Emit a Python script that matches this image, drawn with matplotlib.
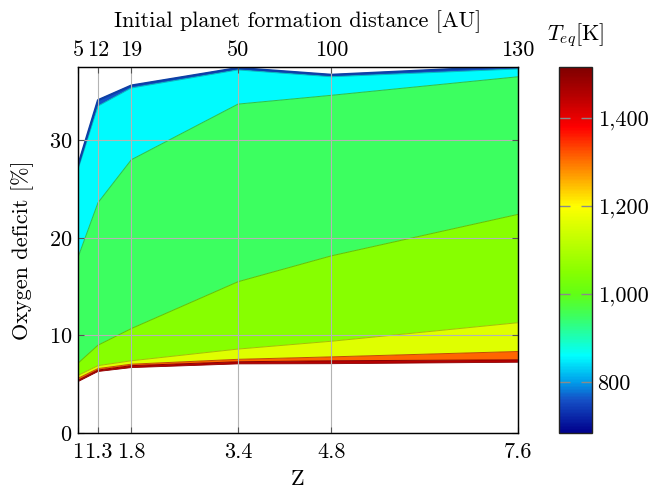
import numpy as np
import matplotlib
matplotlib.use("Agg")
import matplotlib.pyplot as plt
from matplotlib.colors import LinearSegmentedColormap, Normalize
from matplotlib.ticker import FuncFormatter
import matplotlib.cm as cm

plt.rcParams['font.family'] = 'cmr10'
plt.rcParams['mathtext.fontset'] = 'cm'
plt.rcParams['axes.formatter.use_mathtext'] = True

# ---- data ----
z_values = [1.0, 1.3, 1.8, 3.4, 4.8, 7.6]
z_labels = ["1", "1.3", "1.8", "3.4", "4.8", "7.6"]
distance_labels = ["5", "12", "19", "50", "100", "130"]

# stacked layer thicknesses (bottom -> top)
base_offset = [5.26, 6.30, 6.70, 7.08, 7.10, 7.25]
layer_1450 = [0.14, 0.15, 0.20, 0.22, 0.30, 0.25]
layer_1310 = [0.20, 0.15, 0.15, 0.25, 0.40, 0.85]
layer_1160 = [0.30, 0.30, 0.35, 1.05, 1.60, 2.95]
layer_1050 = [1.25, 2.10, 3.30, 6.90, 8.75, 11.10]
layer_950 = [10.85, 14.60, 17.30, 18.20, 16.45, 14.10]
layer_860 = [9.00, 9.90, 7.35, 3.50, 1.90, 0.80]
layer_760 = [0.40, 0.60, 0.25, 0.20, 0.20, 0.30]

layers = [layer_1450, layer_1310, layer_1160, layer_1050, layer_950, layer_860, layer_760]
layer_temps = [1450, 1310, 1160, 1050, 950, 860, 760]

t_min, t_max = 685, 1516
cbar_ticks = [800, 1000, 1200, 1400]

# ---- colormap (as seen on the colorbar) ----
stops = [
    (685, (0.0, 0.0, 0.55)),
    (760, (0.08, 0.32, 0.78)),
    (800, (0.0, 0.62, 0.92)),
    (860, (0.0, 1.0, 1.0)),
    (950, (0.24, 1.0, 0.37)),
    (1000, (0.38, 1.0, 0.08)),
    (1050, (0.53, 1.0, 0.0)),
    (1160, (0.87, 1.0, 0.0)),
    (1200, (1.0, 1.0, 0.0)),
    (1310, (1.0, 0.40, 0.0)),
    (1380, (1.0, 0.0, 0.0)),
    (1450, (0.72, 0.0, 0.0)),
    (1516, (0.5, 0.0, 0.0)),
]
cmap = LinearSegmentedColormap.from_list(
    "teq", [((t - t_min) / (t_max - t_min), c) for t, c in stops])
norm = Normalize(vmin=t_min, vmax=t_max)

FS = 16

fig = plt.figure(figsize=(6.54, 4.91), dpi=100)
ax = fig.add_axes([78/654, 1-433/491, 440/654, 366/491])

x = np.array(z_values)
lower = np.array(base_offset, dtype=float)
for thick, temp in zip(layers, layer_temps):
    upper = lower + np.array(thick)
    col = np.array(cmap(norm(temp)))
    ax.fill_between(x, lower, upper, facecolor=col, edgecolor='none', zorder=1)
    dark = col.copy()
    dark[:3] = dark[:3] * 0.75
    ax.plot(x, upper, color=dark, lw=0.7, zorder=1.5)
    lower = upper
# bold outline at top
ax.plot(x, lower, color=(0.05, 0.25, 0.65), lw=1.6, zorder=1.6)
ax.plot(x, base_offset, color=(0.55, 0.0, 0.0), lw=0.6, zorder=1.6)

ax.set_xlim(1.0, 7.6)
ax.set_ylim(0, 37.5)
ax.set_xticks(z_values)
ax.set_xticklabels(z_labels)
ax.set_yticks([0, 10, 20, 30])
ax.grid(True, color='#b4b4b4', lw=0.8, zorder=2)
ax.set_axisbelow(False)
ax.tick_params(direction='in', length=4, width=0.8, color='#555555',
               labelsize=FS, top=False, right=True, pad=4)
ax.tick_params(axis='x', pad=7)
for s in ax.spines.values():
    s.set_linewidth(1.0)
    s.set_color('#222222')
    s.set_zorder(3)
ax.set_xlabel("Z", fontsize=FS, labelpad=5.5)
ax.set_ylabel("Oxygen deficit [%]", fontsize=FS, labelpad=11)

ax2 = ax.twiny()
ax2.set_xlim(ax.get_xlim())
ax2.set_xticks(z_values)
ax2.set_xticklabels(distance_labels)
ax2.tick_params(direction='in', length=4, width=0.8, color='#555555',
                labelsize=FS, pad=5)
ax2.set_xlabel("Initial planet formation distance [AU]", fontsize=FS, labelpad=9.5)

cax = fig.add_axes([559/654, 1-433/491, 33/654, 366/491])
sm = cm.ScalarMappable(norm=norm, cmap=cmap)
cb = fig.colorbar(sm, cax=cax, ticks=cbar_ticks)
cb.ax.yaxis.set_major_formatter(FuncFormatter(lambda v, p: f"{int(round(v)):,}"))
cb.ax.tick_params(direction='in', length=8, width=1.0, color='#8a8a8a',
                  labelsize=FS, left=True, right=True, pad=4)
cb.outline.set_linewidth(1.0)
cb.outline.set_edgecolor('#222222')
cax.set_title(r"$T_{eq}$[K]", fontsize=FS, pad=19)

fig.savefig("out.png", dpi=100)
